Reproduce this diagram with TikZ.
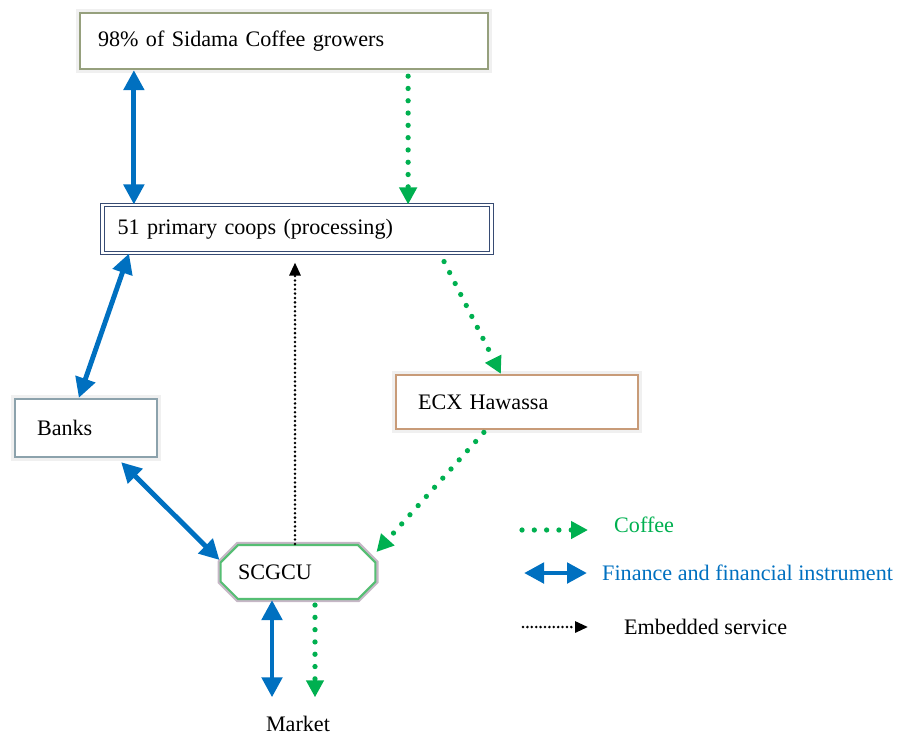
\documentclass[tikz,border=0pt]{standalone}
\usepackage{fontspec}
\setmainfont{Liberation Serif}
\usetikzlibrary{arrows.meta,shapes.misc}
\definecolor{finblue}{RGB}{0,112,192}
\definecolor{cofgreen}{RGB}{0,176,80}
\definecolor{growline}{RGB}{150,160,125}
\definecolor{coopline}{RGB}{55,75,115}
\definecolor{bankline}{RGB}{140,162,172}
\definecolor{ecxline}{RGB}{200,155,120}
\definecolor{unionline}{RGB}{85,190,115}
\begin{document}
\begin{tikzpicture}[x=0.02cm, y=-0.02cm, font=\fontsize{12.6}{15}\selectfont]
  \tikzset{
    box/.style={draw=#1, line width=1.3pt, fill=white, preaction={draw=gray!12, line width=5pt},
      align=left, inner ysep=0pt},
    fin/.style={draw=finblue, line width=2.8pt, {Triangle[length=0.4cm, width=0.4cm]}-{Triangle[length=0.4cm, width=0.4cm]}},
    coffee/.style={draw=cofgreen, line width=3pt, line cap=round, dash pattern=on 0pt off 7pt,
      -{Triangle[length=0.34cm, width=0.34cm]}},
    service/.style={draw=black, line width=1.6pt, line cap=round, dash pattern=on 0pt off 2.5pt,
      -{Triangle[length=0.26cm, width=0.22cm]}}
  }
  \useasboundingbox (0,0) rectangle (901,735);

  \node[box=growline, text width=7.44cm, inner xsep=0.36cm, minimum height=1.12cm] (grow) at (284,41) {98\% of Sidama Coffee growers};
  \node[draw=coopline, line width=0.6pt, double=white, double distance=1.2pt, fill=white, align=left,
    text width=7.18cm, inner xsep=0.3cm, inner ysep=0pt, minimum height=0.96cm] (coop) at (297,229) {51 primary coops (processing)};
  \node[box=bankline, text width=1.96cm, inner xsep=0.44cm, minimum height=1.16cm] (bank) at (86,428) {Banks};
  \node[box=ecxline, text width=3.96cm, inner xsep=0.44cm, minimum height=1.08cm] (ecx) at (517,402) {ECX Hawassa};
  \node[chamfered rectangle, chamfered rectangle xsep=0.16cm, chamfered rectangle ysep=0.2cm,
    draw=unionline, line width=1.2pt, fill=white,
    preaction={draw=violet!25!gray!45, line width=3.5pt}, align=left,
    text width=2.4cm, inner xsep=0.2cm, inner ysep=0pt, minimum height=1.08cm] (union) at (298,572) {SCGCU};
  \node[inner sep=0pt, anchor=base] (mkt) at (298,731) {Market};

  \draw[fin] ([xshift=1.1cm]grow.south west) -- ([xshift=1.1cm]grow.south west |- coop.north);
  \draw[coffee, shorten <=0.12cm] ([xshift=-1.62cm]grow.south east) -- ([xshift=-1.62cm]grow.south east |- coop.north);
  \draw[fin] ([xshift=0.54cm]coop.south west) -- ([xshift=1.3cm]bank.north west);
  \draw[coffee, shorten <=0.18cm] ([xshift=-1.04cm]coop.south east) -- ([xshift=2.12cm]ecx.north west);
  \draw[service, shorten >=0.18cm] ([xshift=-0.06cm]union.north) -- ([xshift=-0.06cm]union.north |- coop.south);
  \draw[coffee, shorten <=0.06cm] ([xshift=1.82cm]ecx.south west) -- ([yshift=0.4cm]union.east);
  \draw[fin] ([xshift=-0.74cm,yshift=-0.08cm]bank.south east) -- ([yshift=0.24cm]union.west);
  \draw[fin, shorten >=0.36cm] ([xshift=-0.52cm]union.south) -- ([xshift=-0.52cm]union.south |- mkt.north);
  \draw[coffee, shorten <=0.1cm, shorten >=0.36cm] ([xshift=0.34cm]union.south) -- ([xshift=0.34cm]union.south |- mkt.north);

  \node[anchor=west, text=cofgreen] (lcof) at (608,525) {Coffee};
  \node[anchor=west, text=finblue] (lfin) at (596,573) {Finance and financial instrument};
  \node[anchor=west] (lsrv) at (618,627) {Embedded service};
  \draw[coffee] ([xshift=-1.72cm, yshift=-0.1cm]lcof.west) -- ([xshift=-0.4cm, yshift=-0.1cm]lcof.west);
  \draw[fin] ([xshift=-1.44cm]lfin.west) -- ([xshift=-0.18cm]lfin.west);
  \draw[service] ([xshift=-1.9cm]lsrv.west) -- ([xshift=-0.6cm]lsrv.west);
\end{tikzpicture}
\end{document}
